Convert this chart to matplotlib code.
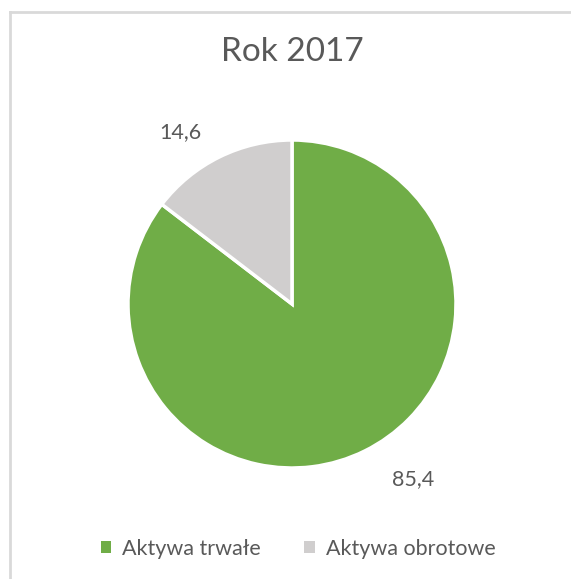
import matplotlib.pyplot as plt
from matplotlib.lines import Line2D
from matplotlib.patches import Patch

title = "Rok 2017"
categories = ["Aktywa trwałe", "Aktywa obrotowe"]
values = [85.4, 14.6]
value_labels = ["85,4", "14,6"]
colors = ["#70AD47", "#D0CECE"]
text_color = "#595959"

plt.rcParams['font.family'] = ['Lato', 'DejaVu Sans']

fig = plt.figure(figsize=(5.71, 5.79), dpi=100)

# light frame, only top and left edges visible (chart area cropped)
fig.add_artist(Line2D([9.5 / 571, 1.0], [1 - 12 / 579, 1 - 12 / 579],
                      transform=fig.transFigure, color="#D9D9D9", lw=2))
fig.add_artist(Line2D([9.5 / 571, 9.5 / 571], [0, 1 - 12 / 579],
                      transform=fig.transFigure, color="#D9D9D9", lw=2))

ax = fig.add_axes([128 / 571, 1 - 468 / 579, 328 / 571, 328 / 579])
wedges, _ = ax.pie(values, colors=colors, startangle=90, counterclock=False,
                   radius=1.0, wedgeprops=dict(edgecolor="white", linewidth=2.5))
ax.set_xlim(-1, 1)
ax.set_ylim(-1, 1)
ax.set_aspect("equal")
ax.axis("off")

# data labels (outside end, Excel best fit)
ax.text(0.74, -1.07, value_labels[0], ha="center", va="center",
        fontsize=15.5, color=text_color, clip_on=False)
ax.text(-0.68, 1.05, value_labels[1], ha="center", va="center",
        fontsize=15.5, color=text_color, clip_on=False)

fig.text(292 / 571, 1 - 52 / 579, title, ha="center", va="center",
         fontsize=24, color=text_color)

handles = [Patch(facecolor=c, edgecolor="none") for c in colors]
fig.legend(handles, categories, loc="center", bbox_to_anchor=(298 / 571, 1 - 549 / 579),
           ncol=2, frameon=False, fontsize=15.5, handlelength=0.5, handleheight=0.5,
           handletextpad=0.5, columnspacing=2.0, labelcolor=text_color)

fig.savefig("out.png", dpi=100)
